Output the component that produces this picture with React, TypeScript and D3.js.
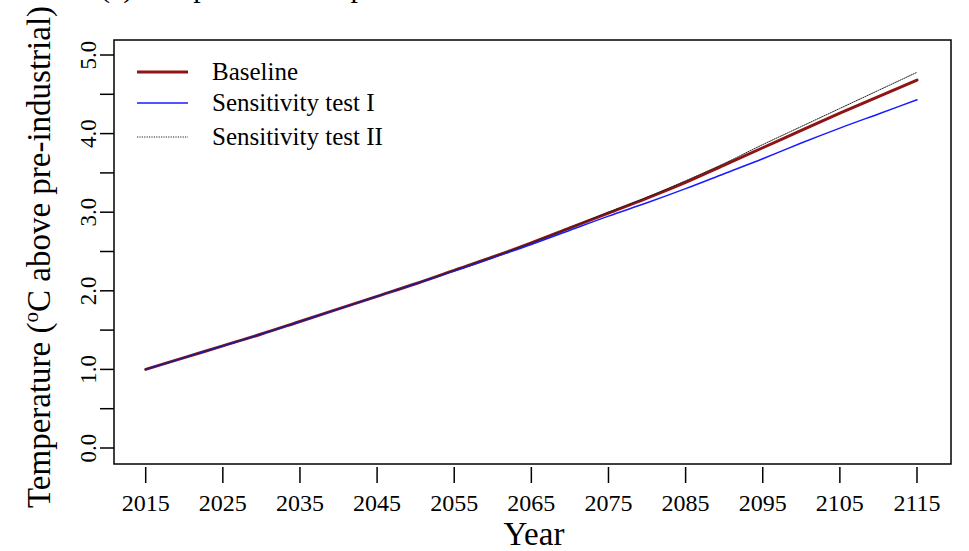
import React from 'react';
import * as d3 from 'd3';

const years = [2015, 2020, 2025, 2030, 2035, 2040, 2045, 2050, 2055, 2060, 2065, 2070, 2075, 2080, 2085, 2090, 2095, 2100, 2105, 2110, 2115];
const baseline = [1.0, 1.15, 1.3, 1.45, 1.61, 1.77, 1.93, 2.09, 2.26, 2.43, 2.61, 2.8, 2.99, 3.18, 3.38, 3.6, 3.82, 4.04, 4.26, 4.47, 4.68];
const sensI = [1.0, 1.15, 1.3, 1.45, 1.61, 1.77, 1.93, 2.09, 2.25, 2.42, 2.59, 2.77, 2.95, 3.12, 3.3, 3.49, 3.68, 3.88, 4.07, 4.25, 4.43];
const sensII = [1.0, 1.15, 1.3, 1.45, 1.61, 1.77, 1.93, 2.09, 2.26, 2.43, 2.61, 2.8, 3.0, 3.19, 3.4, 3.62, 3.86, 4.09, 4.32, 4.55, 4.78];
const xTicks = [2015, 2025, 2035, 2045, 2055, 2065, 2075, 2085, 2095, 2105, 2115];
const yTicks = [0, 0.5, 1, 1.5, 2, 2.5, 3, 3.5, 4, 4.5, 5];
const yLabels = [0, 1, 2, 3, 4, 5];

const series = [
    { name: 'Baseline', values: baseline, color: '#8f1515', width: 3, dash: '' },
    { name: 'Sensitivity test I', values: sensI, color: '#1a1aff', width: 1.5, dash: '' },
    { name: 'Sensitivity test II', values: sensII, color: '#222', width: 1, dash: '1.2,1.2' },
];

const font = '"Liberation Serif", "DejaVu Serif", serif';

const App: React.FC = () => {
    const box = { left: 114, top: 40, right: 951, bottom: 464 };
    const x = d3.scaleLinear().domain([2015, 2115]).range([145.7, 917]);
    const y = d3.scaleLinear().domain([0, 5]).range([448, 55]);

    const line = d3.line<number>()
        .x((_, i) => x(years[i]))
        .y(d => y(d))
        .curve(d3.curveMonotoneX);

    return (
        <svg width={969} height={551} style={{ position: 'absolute', left: 0, top: 0, background: '#fff' }}
            fontFamily={font}>
            {/* panel title, cut off at the top like the original */}
            <text x={100} y={-3} fontSize={30}>(a) Temperature comparison</text>

            {series.map(s => (
                <path key={s.name} d={line(s.values) || ''} fill="none" stroke={s.color}
                    strokeWidth={s.width} strokeDasharray={s.dash || undefined} strokeLinecap="round" />
            ))}

            <rect x={box.left} y={box.top} width={box.right - box.left} height={box.bottom - box.top}
                fill="none" stroke="#000" strokeWidth={1.5} />

            {/* y axis */}
            {yTicks.map(t => (
                <line key={t} x1={100} x2={box.left} y1={y(t)} y2={y(t)} stroke="#000" strokeWidth={1.5} />
            ))}
            {yLabels.map(t => (
                <text key={t} transform={`translate(${96},${y(t)}) rotate(-90)`} textAnchor="middle"
                    fontSize={23}>{t.toFixed(1)}</text>
            ))}
            <text transform={`translate(${50},${257}) rotate(-90)`} textAnchor="middle" fontSize={33}>
                Temperature (<tspan fontSize={21} dy={-12}>o</tspan><tspan dy={12}>C above pre-industrial)</tspan>
            </text>

            {/* x axis */}
            {xTicks.map(t => (
                <g key={t}>
                    <line x1={x(t)} x2={x(t)} y1={467} y2={483} stroke="#000" strokeWidth={1.5} />
                    <text x={x(t)} y={511} textAnchor="middle" fontSize={24}>{t}</text>
                </g>
            ))}
            <text x={534} y={545} textAnchor="middle" fontSize={33}>Year</text>

            {/* legend */}
            {series.map((s, i) => {
                const ly = [72, 103, 137][i];
                return (
                    <g key={s.name}>
                        <line x1={137} x2={188} y1={ly} y2={ly} stroke={s.color} strokeWidth={s.width}
                            strokeDasharray={s.dash || undefined} />
                        <text x={212} y={ly + 8} fontSize={25}>{s.name}</text>
                    </g>
                );
            })}
        </svg>
    );
};

export default App;
